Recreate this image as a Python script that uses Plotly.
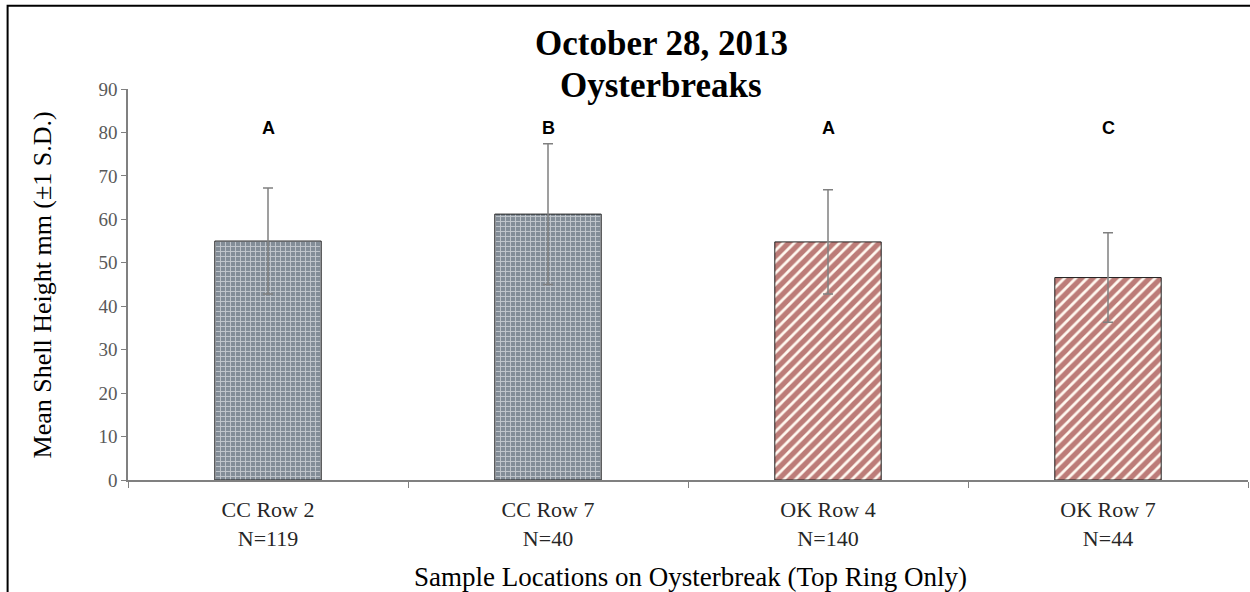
import plotly.graph_objects as go

categories = ["CC Row 2<br>N=119", "CC Row 7<br>N=40", "OK Row 4<br>N=140", "OK Row 7<br>N=44"]
means = [55.0, 61.2, 54.8, 46.6]
sds = [12.2, 16.2, 12.0, 10.3]
letters = ["A", "B", "A", "C"]
letter_y = [81, 81, 81, 81]
title_lines = ["October 28, 2013", "Oysterbreaks"]

cc_idx = [0, 1]
ok_idx = [2, 3]

fig = go.Figure()

fig.add_trace(go.Bar(
    x=[categories[i] for i in cc_idx], y=[means[i] for i in cc_idx],
    width=0.38,
    error_y=dict(type="data", array=[sds[i] for i in cc_idx], visible=True,
                 color="#808080", thickness=1.5, width=5),
    marker=dict(color="#8c959e", line=dict(color="#1f1f1f", width=1),
                pattern=dict(shape="+", fgcolor="#ffffff", bgcolor="#838d97",
                             size=5, solidity=0.35)),
    showlegend=False,
))
fig.add_trace(go.Bar(
    x=[categories[i] for i in ok_idx], y=[means[i] for i in ok_idx],
    width=0.38,
    error_y=dict(type="data", array=[sds[i] for i in ok_idx], visible=True,
                 color="#808080", thickness=1.5, width=5),
    marker=dict(color="#fff6ee", line=dict(color="#1f1f1f", width=1),
                pattern=dict(shape="/", fgcolor="#7a0000", bgcolor="#fff8f0",
                             size=8, solidity=0.65)),
    showlegend=False,
))

annotations = []
for c, l, ly in zip(categories, letters, letter_y):
    annotations.append(dict(x=c, y=ly, xref="x", yref="y", text="<b>%s</b>" % l,
                            showarrow=False,
                            font=dict(family="Liberation Sans", size=18, color="#000000")))

for ty, line in zip([1.117, 1.008], title_lines):
    annotations.append(dict(x=0.476, y=ty, xref="paper", yref="paper",
                            text="<b>%s</b>" % line, showarrow=False,
                            xanchor="center", yanchor="middle",
                            font=dict(family="Liberation Serif", size=35, color="#000000")))
annotations.append(dict(x=-0.0759, y=0.5, xref="paper", yref="paper",
                        text="Mean Shell Height mm (±1 S.D.)", showarrow=False, textangle=-90,
                        xanchor="center", yanchor="middle",
                        font=dict(family="Liberation Serif", size=26, color="#000000")))
annotations.append(dict(x=0.502, y=-0.248, xref="paper", yref="paper",
                        text="Sample Locations on Oysterbreak (Top Ring Only)", showarrow=False,
                        xanchor="center", yanchor="middle",
                        font=dict(family="Liberation Serif", size=27, color="#000000")))

fig.update_layout(
    width=1250, height=592,
    margin=dict(l=128, r=2, t=89, b=112),
    paper_bgcolor="#ffffff", plot_bgcolor="#ffffff",
    barmode="group",
    annotations=annotations,
    shapes=[dict(type="rect", xref="paper", yref="paper",
                 x0=-0.1075, x1=1.005, y0=-0.292, y1=1.213,
                 line=dict(color="#000000", width=2))],
    xaxis=dict(showline=True, linecolor="#808080", linewidth=1.5,
               ticks="outside", tickson="boundaries", ticklen=6, tickcolor="#808080",
               ticklabelstandoff=9,
               tickfont=dict(family="Liberation Serif", size=22, color="#262626"),
               showgrid=False, zeroline=False),
    yaxis=dict(range=[0, 90], dtick=10, showline=True, linecolor="#808080", linewidth=1.5,
               ticks="outside", ticklen=5, tickcolor="#808080",
               tickfont=dict(family="Liberation Serif", size=19, color="#595959"),
               showgrid=False, zeroline=False),
)

fig.write_html("out.html", config={"displayModeBar": False},
               post_script="document.body.style.margin='0';")
